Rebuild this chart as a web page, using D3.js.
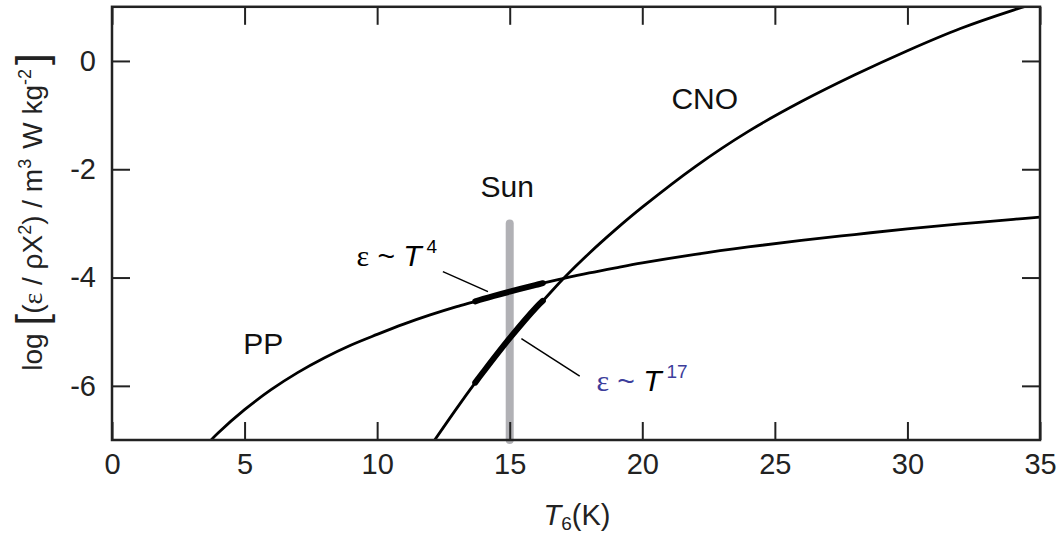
<!DOCTYPE html>
<html>
<head>
<meta charset="utf-8">
<script src="https://cdn.jsdelivr.net/npm/d3@7"></script>
<style>
  body { margin: 0; background: #fff; }
  svg { display: block; font-family: "Liberation Sans", Arial, sans-serif; }
</style>
</head>
<body>
<div id="chart"></div>
<script>
// values: T6 and log rate for each chain
var ppT   = [3.7, 4, 5, 6, 7, 8, 9, 10, 11, 12, 13, 13.7, 14, 15, 16, 16.25, 17, 18, 19, 20, 22, 24, 26, 28, 30, 32, 34, 35];
var ppLog = [-7.02, -6.87, -6.44, -6.07, -5.755, -5.485, -5.25, -5.05, -4.86, -4.69, -4.537, -4.44, -4.394, -4.26, -4.135, -4.104,
             -4.02, -3.915, -3.82, -3.73, -3.572, -3.435, -3.314, -3.206, -3.10, -3.01, -2.925, -2.885];
var cnoT   = [12.1, 13, 13.7, 14, 15, 16, 16.25, 17, 18, 19, 20, 22, 24, 26, 28, 30, 32, 34, 34.6];
var cnoLog = [-7.05, -6.415, -5.94, -5.745, -5.12, -4.55, -4.43, -4.03, -3.55, -3.11, -2.70, -1.95, -1.30, -0.75, -0.26, 0.19, 0.60, 0.94, 1.03];
var sunRange = [13.7, 16.25];   // thick part of the curves around the Sun
var sunT = 15;
var sunLog = [-3, -7];
var xTicks = [0, 5, 10, 15, 20, 25, 30, 35];
var yTicks = [0, -2, -4, -6];

var width = 1064, height = 538;
var svg = d3.select("#chart").append("svg")
    .attr("width", width)
    .attr("height", height);

var x = d3.scaleLinear().domain([0, 35]).range([112, 1040]);
var y = d3.scaleLinear().domain([-7, 1]).range([440, 6.8]);

svg.append("defs").append("clipPath")
    .attr("id", "plot-clip")
    .append("rect")
    .attr("x", x(0)).attr("y", y(1))
    .attr("width", x(35) - x(0)).attr("height", y(-7) - y(1));

var pp = ppT.map(function (t, i) { return [t, ppLog[i]]; });
var cno = cnoT.map(function (t, i) { return [t, cnoLog[i]]; });

var line = d3.line()
    .x(function (d) { return x(d[0]); })
    .y(function (d) { return y(d[1]); })
    .curve(d3.curveCatmullRom.alpha(0.5));

// Sun bar
svg.append("line")
    .attr("x1", x(sunT)).attr("x2", x(sunT))
    .attr("y1", y(sunLog[0])).attr("y2", y(sunLog[1]))
    .attr("stroke", "#b1b1b5")
    .attr("stroke-width", 8)
    .attr("stroke-linecap", "round");

var plot = svg.append("g").attr("clip-path", "url(#plot-clip)");
[pp, cno].forEach(function (c) {
    plot.append("path")
        .attr("d", line(c))
        .attr("fill", "none")
        .attr("stroke", "#000")
        .attr("stroke-width", 2.8);
    //thick bit inside the sun range
    var part = c.filter(function (d) { return d[0] >= sunRange[0] && d[0] <= sunRange[1]; });
    plot.append("path")
        .attr("d", line(part))
        .attr("fill", "none")
        .attr("stroke", "#000")
        .attr("stroke-width", 6)
        .attr("stroke-linecap", "round");
});

// frame and inward ticks on all four sides
var tickLen = 18;
var axB = svg.append("g")
    .attr("transform", "translate(0," + y(-7) + ")")
    .call(d3.axisBottom(x).tickValues(xTicks).tickSize(-tickLen).tickPadding(13)
        .tickFormat(function (d) { return String(d); }));
var axT = svg.append("g")
    .attr("transform", "translate(0," + y(1) + ")")
    .call(d3.axisTop(x).tickValues(xTicks).tickSize(-tickLen).tickFormat(""));
var axL = svg.append("g")
    .attr("transform", "translate(" + x(0) + ",0)")
    .call(d3.axisLeft(y).tickValues(yTicks).tickSize(-tickLen).tickPadding(16)
        .tickFormat(function (d) { return String(d); }));
var axR = svg.append("g")
    .attr("transform", "translate(" + x(35) + ",0)")
    .call(d3.axisRight(y).tickValues(yTicks).tickSize(-tickLen).tickFormat(""));
[axB, axT, axL, axR].forEach(function (a) {
    a.select(".domain").remove();
    a.selectAll(".tick line").attr("stroke", "#222").attr("stroke-width", 2);
    a.selectAll("text")
        .attr("fill", "#222")
        .attr("font-size", 29)
        .attr("font-family", "Liberation Sans, Arial, sans-serif");
});
svg.append("rect")
    .attr("x", x(0)).attr("y", y(1))
    .attr("width", x(35) - x(0)).attr("height", y(-7) - y(1))
    .attr("fill", "none")
    .attr("stroke", "#222")
    .attr("stroke-width", 2.5);

// curve labels
function label(txt, tx, ty) {
    svg.append("text")
        .attr("x", x(tx)).attr("y", y(ty))
        .attr("font-size", 30)
        .attr("fill", "#111")
        .text(txt);
}
label("CNO", 21.1, -0.88);
label("Sun", 13.9, -2.52);
label("PP", 4.95, -5.42);

// leader lines
var leaders = [[[12.48, -3.89], [14.18, -4.26]], [[15.44, -5.13], [17.64, -5.82]]];
leaders.forEach(function (l) {
    svg.append("line")
        .attr("x1", x(l[0][0])).attr("y1", y(l[0][1]))
        .attr("x2", x(l[1][0])).attr("y2", y(l[1][1]))
        .attr("stroke", "#000")
        .attr("stroke-width", 1.5);
});

function powerLabel(tx, ty, power, col) {
    var t = svg.append("text")
        .attr("x", x(tx)).attr("y", y(ty))
        .attr("font-size", 30)
        .attr("fill", col);
    t.append("tspan").attr("font-family", "Liberation Serif, serif").text("\u03b5");
    t.append("tspan").text(" ~ ");
    t.append("tspan").attr("font-style", "italic").attr("fill", "#000").text("T");
    t.append("tspan").attr("dx", 5).attr("dy", -13).attr("font-size", 19).text(power);
}
powerLabel(9.22, -3.79, "4", "#000");
powerLabel(18.27, -6.10, "17", "#3d3d9b");

// axis titles
var xt = svg.append("text")
    .attr("x", 577).attr("y", 525)
    .attr("text-anchor", "middle")
    .attr("font-size", 29)
    .attr("fill", "#222");
xt.append("tspan").attr("font-style", "italic").text("T");
xt.append("tspan").attr("font-size", 19).attr("dy", 5).text("6");
xt.append("tspan").attr("dy", -5).text("(K)");

var yt = svg.append("text")
    .attr("transform", "translate(42,212) rotate(-90)")
    .attr("text-anchor", "middle")
    .attr("font-size", 28)
    .attr("fill", "#222");
yt.append("tspan").text("log ");
yt.append("tspan").attr("font-size", 42).attr("dy", 4).text("[");
yt.append("tspan").attr("dy", -4).text("(");
yt.append("tspan").attr("font-family", "Liberation Serif, serif").text("\u03b5");
yt.append("tspan").text(" / \u03c1X");
yt.append("tspan").attr("font-size", 18).attr("dy", -11).text("2");
yt.append("tspan").attr("dy", 11).text(") / m");
yt.append("tspan").attr("font-size", 18).attr("dy", -11).text("3");
yt.append("tspan").attr("dx", 10).attr("dy", 11).text("W kg");
yt.append("tspan").attr("font-size", 18).attr("dy", -11).text("-2");
yt.append("tspan").attr("font-size", 42).attr("dx", 4).attr("dy", 15).text("]");
</script>
</body>
</html>
